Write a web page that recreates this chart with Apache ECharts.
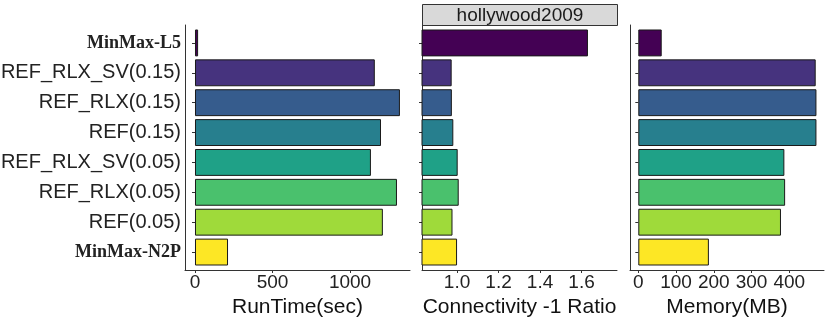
<!DOCTYPE html>
<html>
<head>
<meta charset="utf-8">
<script src="https://cdn.jsdelivr.net/npm/echarts@6/dist/echarts.min.js"></script>
<style>
  html, body { margin: 0; padding: 0; background: #fff; }
  #chart { width: 830px; height: 320px; }
</style>
</head>
<body>
<div id="chart"></div>
<script>
// categories top -> bottom
var methods = ['MinMax-L5', 'REF_RLX_SV(0.15)', 'REF_RLX(0.15)', 'REF(0.15)',
               'REF_RLX_SV(0.05)', 'REF_RLX(0.05)', 'REF(0.05)', 'MinMax-N2P'];
var runTime = [20, 1160, 1322, 1200, 1135, 1303, 1212, 213];
var connRatio = [1.631, 0.974, 0.975, 0.982, 1.003, 1.008, 0.978, 1.0];
var memory = [62, 470, 472, 472, 387, 389, 378, 187];
var colors = ['#440154', '#46337E', '#365C8D', '#277F8E', '#1FA187', '#4AC16D', '#9FDA3A', '#FDE725'];
var runTicks = [0, 500, 1000];
var connTicks = [1.0, 1.2, 1.4, 1.6];
var memTicks = [0, 100, 200, 300, 400];
var dataset = 'hollywood2009';

var boldNames = { 'MinMax-L5': 1, 'MinMax-N2P': 1 };
var ink = '#222';
var lineColor = '#333';

// panel geometry: [left, width]
var panels = [[185, 225], [422, 195], [630, 194]];
var barTop = 28, barHeight = 239, axTop = 25, axHeight = 245;

var grids = [];
var xAxes = [];
var yAxes = [];
var series = [];

function plain(v) { return String(v); }

function addPanel(i, values, min, max, ticks, name, fmt, showLabels) {
  var p = panels[i];
  grids.push({ left: p[0], width: p[1], top: barTop, height: barHeight, outerBoundsMode: 'none' });
  xAxes.push({
    gridIndex: i, type: 'value', min: min, max: max, offset: 3,
    axisLine: { show: true, lineStyle: { color: lineColor, width: 1 } },
    axisTick: { show: true, length: 3, customValues: ticks, lineStyle: { color: lineColor } },
    axisLabel: { customValues: ticks, margin: 3, fontSize: 19, color: ink,
                 fontFamily: 'Liberation Sans', formatter: fmt },
    splitLine: { show: false },
    name: name, nameLocation: 'middle', nameGap: 23,
    nameTextStyle: { fontSize: 21, color: '#111', fontFamily: 'Liberation Sans' }
  });
  yAxes.push({
    gridIndex: i, type: 'category', data: methods, inverse: true,
    axisLine: { show: false },
    axisTick: { show: true, length: 3, alignWithLabel: true, lineStyle: { color: lineColor } },
    axisLabel: {
      show: showLabels, margin: 4, color: ink,
      formatter: function (v) { return boldNames[v] ? '{b|' + v + '}' : '{n|' + v + '}'; },
      rich: {
        n: { fontSize: 20, fontFamily: 'Liberation Sans', color: ink },
        b: { fontSize: 18, fontFamily: 'Liberation Serif', fontWeight: 'bold', color: ink }
      }
    },
    splitLine: { show: false }
  });
  series.push({
    type: 'bar', xAxisIndex: i, yAxisIndex: i, barCategoryGap: '10%', clip: true,
    data: values.map(function (v, k) {
      return { value: v, itemStyle: { color: colors[k] } };
    }),
    itemStyle: { borderColor: '#1a1a1a', borderWidth: 1 },
    emphasis: { disabled: true }
  });
}

addPanel(0, runTime, -64.5, 1387, runTicks, 'RunTime(sec)', plain, true);
addPanel(1, connRatio, 0.831, 1.771, connTicks, 'Connectivity -1 Ratio',
         function (v) { return v.toFixed(1); }, false);
addPanel(2, memory, -22, 492, memTicks, 'Memory(MB)', plain, false);

// full-height left axis lines
panels.forEach(function (p, i) {
  grids.push({ left: p[0], width: p[1], top: axTop, height: axHeight, outerBoundsMode: 'none' });
  xAxes.push({ gridIndex: 3 + i, type: 'value', show: false, min: 0, max: 1 });
  yAxes.push({
    gridIndex: 3 + i, type: 'value', min: 0, max: 1,
    axisLine: { show: true, lineStyle: { color: lineColor, width: 1 } },
    axisTick: { show: false }, axisLabel: { show: false }, splitLine: { show: false }
  });
});

var chart = echarts.init(document.getElementById('chart'), null, { renderer: 'canvas' });
chart.setOption({
  animation: false,
  backgroundColor: '#fff',
  grid: grids,
  xAxis: xAxes,
  yAxis: yAxes,
  series: series,
  graphic: [{
    type: 'group', left: panels[1][0], top: 4,
    children: [
      { type: 'rect', shape: { x: 0, y: 0, width: panels[1][1], height: 21 },
        style: { fill: '#d9d9d9', stroke: '#333', lineWidth: 1 } },
      { type: 'text', x: panels[1][1] / 2, y: 11,
        style: { text: dataset, fontSize: 19, fontFamily: 'Liberation Sans', fill: '#1a1a1a',
                 align: 'center', verticalAlign: 'middle' } }
    ]
  }]
});
</script>
</body>
</html>
